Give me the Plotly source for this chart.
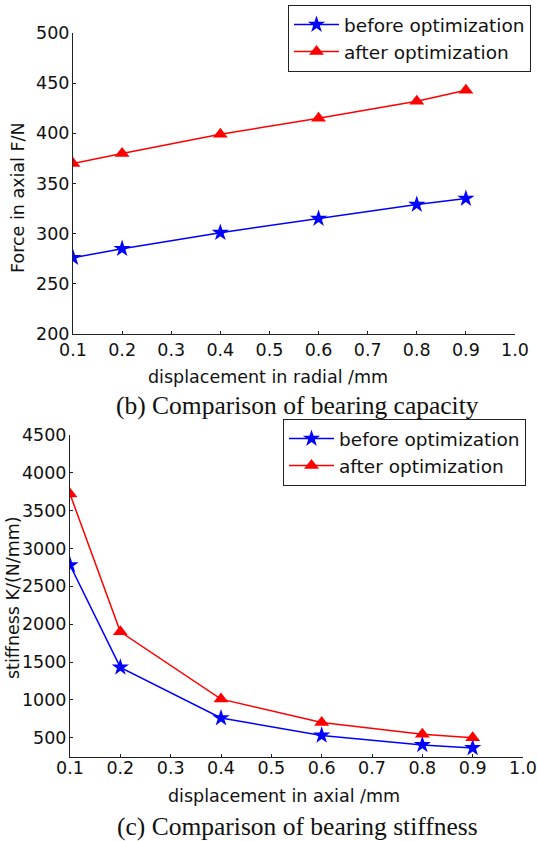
import plotly.graph_objects as go

W, H = 537, 841

# ---- data ----
x_disp = [0.1, 0.2, 0.4, 0.6, 0.8, 0.9]
force_before = [276, 285, 301, 315, 329, 335]
force_after = [370, 380, 399, 415, 432, 443]
stiff_before = [2780, 1430, 760, 530, 405, 365]
stiff_after = [3720, 1900, 1010, 700, 545, 500]

x_ticks = [0.1, 0.2, 0.3, 0.4, 0.5, 0.6, 0.7, 0.8, 0.9, 1.0]
force_ticks = [200, 250, 300, 350, 400, 450, 500]
stiff_ticks = [500, 1000, 1500, 2000, 2500, 3000, 3500, 4000, 4500]

series_names = ["before optimization", "after optimization"]
titles = {
    "y1": "Force in axial F/N",
    "x1": "displacement in radial /mm",
    "cap1": "(b) Comparison of bearing capacity",
    "y2": "stiffness K/(N/mm)",
    "x2": "displacement in axial /mm",
    "cap2": "(c) Comparison of bearing stiffness",
}

BLUE = "#0000ff"
RED = "#ff0000"
AX = "#222222"
TXT = "#111111"
SANS = "DejaVu Sans, Liberation Sans, Arial, sans-serif"
SERIF = "Liberation Serif, Times New Roman, serif"

def px(x):
    return x / W

def py(y):
    return 1 - y / H

fig = go.Figure()

def add_pair(yb, ya, xa, ya_ax, leg):
    fig.add_trace(go.Scatter(x=x_disp, y=yb, mode="lines+markers", name=series_names[0],
                             line=dict(color=BLUE, width=1.5),
                             marker=dict(symbol="star", size=13, color=BLUE),
                             xaxis=xa, yaxis=ya_ax, legend=leg))
    fig.add_trace(go.Scatter(x=x_disp, y=ya, mode="lines+markers", name=series_names[1],
                             line=dict(color=RED, width=1.5),
                             marker=dict(symbol="triangle-up", size=13, color=RED),
                             xaxis=xa, yaxis=ya_ax, legend=leg))

add_pair(force_before, force_after, "x", "y", "legend")
add_pair(stiff_before, stiff_after, "x2", "y2", "legend2")

tickfont = dict(family=SANS, size=17.5, color=TXT)

def xaxis_cfg(domain, anchor, standoff):
    return dict(domain=domain, anchor=anchor, range=[0.1, 1.0], tickvals=x_ticks,
                ticktext=[f"{v:.1f}" for v in x_ticks], ticks="inside", ticklen=3,
                tickcolor=AX, showline=True, linecolor=AX, linewidth=1,
                showgrid=False, zeroline=False, tickfont=tickfont, automargin=False,
                ticklabelstandoff=standoff)

def yaxis_cfg(domain, anchor, rng, tv):
    return dict(domain=domain, anchor=anchor, range=rng, tickvals=tv,
                ticktext=[str(v) for v in tv], ticks="inside", ticklen=3,
                tickcolor=AX, showline=True, linecolor=AX, linewidth=1,
                showgrid=False, zeroline=False, tickfont=tickfont,
                ticklabelstandoff=-1, automargin=False)

legend_font = dict(family=SANS, size=18.5, color=TXT)

fig.update_layout(
    template="none",
    width=W, height=H,
    margin=dict(l=0, r=0, t=0, b=0),
    paper_bgcolor="white", plot_bgcolor="white",
    showlegend=True,
    xaxis=xaxis_cfg([px(73), px(515)], "y", 0),
    yaxis=yaxis_cfg([py(334), py(33)], "x", [200, 500], force_ticks),
    xaxis2=xaxis_cfg([px(70), px(523)], "y2", -5),
    yaxis2=yaxis_cfg([py(757), py(435)], "x2", [245, 4500], stiff_ticks),
    legend=dict(x=px(288), y=py(5), xanchor="left", yanchor="top",
                bordercolor=AX, borderwidth=1, bgcolor="white",
                font=legend_font, tracegroupgap=0, itemwidth=45),
    legend2=dict(x=px(283), y=py(419), xanchor="left", yanchor="top",
                 bordercolor=AX, borderwidth=1, bgcolor="white",
                 font=legend_font, tracegroupgap=0, itemwidth=45),
)

ann = [
    dict(text=titles["y1"], x=px(18), y=py(198), textangle=-90, font=dict(family=SANS, size=17.5, color=TXT)),
    dict(text=titles["x1"], x=px(268), y=py(377), font=dict(family=SANS, size=17.5, color=TXT)),
    dict(text=titles["cap1"], x=px(297), y=py(405), font=dict(family=SERIF, size=25.5, color=TXT)),
    dict(text=titles["y2"], x=px(13), y=py(598), textangle=-90, font=dict(family=SANS, size=17.5, color=TXT)),
    dict(text=titles["x2"], x=px(284), y=py(796), font=dict(family=SANS, size=17.5, color=TXT)),
    dict(text=titles["cap2"], x=px(297), y=py(826), font=dict(family=SERIF, size=25.5, color=TXT)),
]
for a in ann:
    fig.add_annotation(xref="paper", yref="paper", showarrow=False, xanchor="center", yanchor="middle", **a)

fig.write_html("out.html")
